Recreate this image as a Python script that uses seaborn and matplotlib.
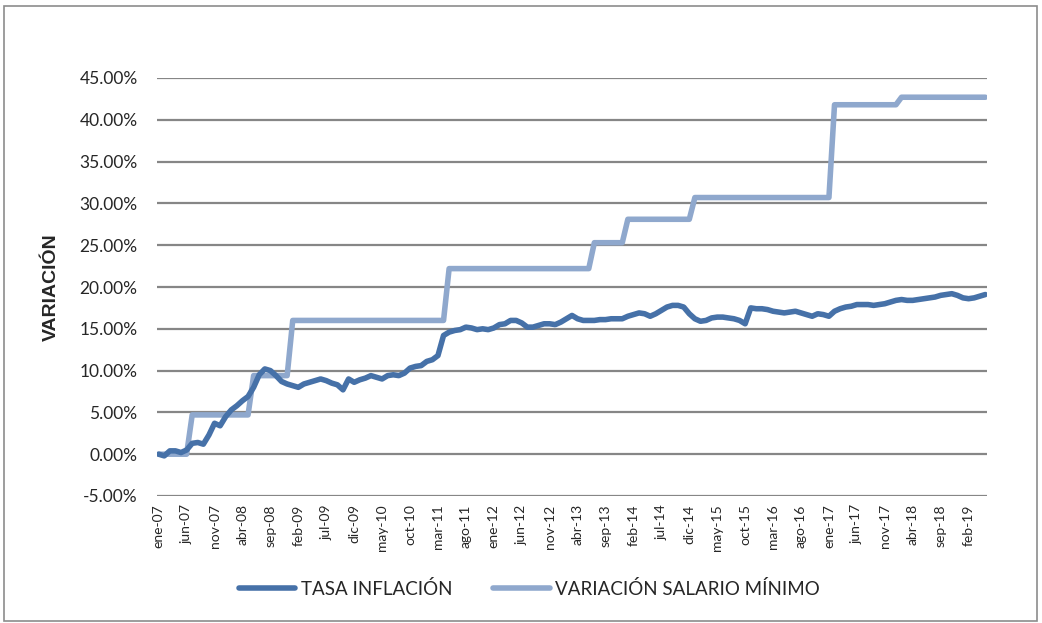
import numpy as np
import pandas as pd
import matplotlib
matplotlib.use("Agg")
import matplotlib.pyplot as plt
import seaborn as sns
from matplotlib.patches import Rectangle

sns.set_style("white")
plt.rcParams["font.family"] = ["Lato", "DejaVu Sans"]

# monthly values, ene-07 .. may-19 (percent)
tasa_inflacion = [
    0.0, -0.2, 0.4, 0.4, 0.2, 0.5, 1.3, 1.4, 1.2, 2.3, 3.7, 3.4,
    4.5, 5.3, 5.8, 6.4, 6.9, 8.0, 9.5, 10.2, 10.0, 9.4, 8.7, 8.4,
    8.2, 8.0, 8.4, 8.6, 8.8, 9.0, 8.8, 8.5, 8.3, 7.7, 9.0, 8.6,
    8.9, 9.1, 9.4, 9.2, 9.0, 9.4, 9.5, 9.4, 9.7, 10.3, 10.5, 10.6,
    11.1, 11.3, 11.8, 14.2, 14.6, 14.8, 14.9, 15.2, 15.1, 14.9, 15.0, 14.9,
    15.1, 15.5, 15.6, 16.0, 16.0, 15.7, 15.2, 15.2, 15.4, 15.6, 15.6, 15.5,
    15.8, 16.2, 16.6, 16.2, 16.0, 16.0, 16.0, 16.1, 16.1, 16.2, 16.2, 16.2,
    16.5, 16.7, 16.9, 16.8, 16.5, 16.8, 17.2, 17.6, 17.8, 17.8, 17.6, 16.8,
    16.2, 15.9, 16.0, 16.3, 16.4, 16.4, 16.3, 16.2, 16.0, 15.6, 17.5, 17.4,
    17.4, 17.3, 17.1, 17.0, 16.9, 17.0, 17.1, 16.9, 16.7, 16.5, 16.8, 16.7,
    16.5, 17.1, 17.4, 17.6, 17.7, 17.9, 17.9, 17.9, 17.8, 17.9, 18.0, 18.2,
    18.4, 18.5, 18.4, 18.4, 18.5, 18.6, 18.7, 18.8, 19.0, 19.1, 19.2, 19.0,
    18.7, 18.6, 18.7, 18.9, 19.1,
]

variacion_salario = [
    0.0, 0.0, 0.0, 0.0, 0.0, 0.0, 4.7, 4.7, 4.7, 4.7, 4.7, 4.7,
    4.7, 4.7, 4.7, 4.7, 4.7, 9.4, 9.4, 9.4, 9.4, 9.4, 9.4, 9.4,
    16.0, 16.0, 16.0, 16.0, 16.0, 16.0, 16.0, 16.0, 16.0, 16.0, 16.0, 16.0,
    16.0, 16.0, 16.0, 16.0, 16.0, 16.0, 16.0, 16.0, 16.0, 16.0, 16.0, 16.0,
    16.0, 16.0, 16.0, 16.0, 22.2, 22.2, 22.2, 22.2, 22.2, 22.2, 22.2, 22.2,
    22.2, 22.2, 22.2, 22.2, 22.2, 22.2, 22.2, 22.2, 22.2, 22.2, 22.2, 22.2,
    22.2, 22.2, 22.2, 22.2, 22.2, 22.2, 25.3, 25.3, 25.3, 25.3, 25.3, 25.3,
    28.1, 28.1, 28.1, 28.1, 28.1, 28.1, 28.1, 28.1, 28.1, 28.1, 28.1, 28.1,
    30.7, 30.7, 30.7, 30.7, 30.7, 30.7, 30.7, 30.7, 30.7, 30.7, 30.7, 30.7,
    30.7, 30.7, 30.7, 30.7, 30.7, 30.7, 30.7, 30.7, 30.7, 30.7, 30.7, 30.7,
    30.7, 41.8, 41.8, 41.8, 41.8, 41.8, 41.8, 41.8, 41.8, 41.8, 41.8, 41.8,
    41.8, 42.7, 42.7, 42.7, 42.7, 42.7, 42.7, 42.7, 42.7, 42.7, 42.7, 42.7,
    42.7, 42.7, 42.7, 42.7, 42.7,
]

tick_labels = [
    "ene-07", "jun-07", "nov-07", "abr-08", "sep-08", "feb-09", "jul-09",
    "dic-09", "may-10", "oct-10", "mar-11", "ago-11", "ene-12", "jun-12",
    "nov-12", "abr-13", "sep-13", "feb-14", "jul-14", "dic-14", "may-15",
    "oct-15", "mar-16", "ago-16", "ene-17", "jun-17", "nov-17", "abr-18",
    "sep-18", "feb-19",
]

series_names = ["TASA INFLACIÓN", "VARIACIÓN SALARIO MÍNIMO"]
colors = ["#4671A8", "#8FA8CD"]

n = len(tasa_inflacion)
df = pd.DataFrame({
    "mes": list(range(n)) * 2,
    "valor": tasa_inflacion + variacion_salario,
    "serie": [series_names[0]] * n + [series_names[1]] * n,
})

fig = plt.figure(figsize=(10.42, 6.23), dpi=100)
ax = fig.add_axes([157 / 1042, 1 - 496 / 623, 830 / 1042, 418 / 623])

# outer chart border
fig.patches.append(Rectangle((4 / 1042, 2 / 623), 1033 / 1042, 615 / 623,
                             transform=fig.transFigure, fill=False,
                             edgecolor="#8c8c8c", linewidth=1.2))

sns.lineplot(data=df, x="mes", y="valor", hue="serie", hue_order=series_names,
             palette=colors, linewidth=4.0, ax=ax, legend=False,
             solid_capstyle="round", solid_joinstyle="round")
# inflation drawn on top like the reference
ax.lines[0].set_zorder(4)
ax.lines[1].set_zorder(3)

ax.set_xlim(-0.3, n - 1 + 0.3)
ax.set_ylim(-5, 45)
ax.set_yticks(np.arange(-5, 46, 5))
ax.set_yticklabels([f"{v:.2f}%" for v in np.arange(-5, 46, 5)], fontsize=12.5)
ax.set_xticks(np.arange(0, n, 5))
ax.set_xticklabels(tick_labels, rotation=90, fontsize=10)
ax.tick_params(axis="y", length=0, pad=14)
ax.tick_params(axis="x", length=0, pad=6)

ax.grid(axis="y", color="#868686", linewidth=1.6)
ax.set_axisbelow(True)
for s in ax.spines.values():
    s.set_visible(False)

ax.set_xlabel("")
ax.set_ylabel("VARIACIÓN", fontsize=14, fontweight="bold",
              family=["Liberation Sans", "DejaVu Sans"])
ax.yaxis.set_label_coords(-0.117, 0.5)

handles = [plt.Line2D([], [], color=c, linewidth=4.0, solid_capstyle="round")
           for c in colors]
fig.legend(handles, series_names, loc="center", bbox_to_anchor=(0.508, 1 - 589 / 623),
           ncol=2, frameon=False, fontsize=13.5, handlelength=3.0,
           handletextpad=0.3, columnspacing=2.2)

fig.savefig("out.png", dpi=100, facecolor="white")
